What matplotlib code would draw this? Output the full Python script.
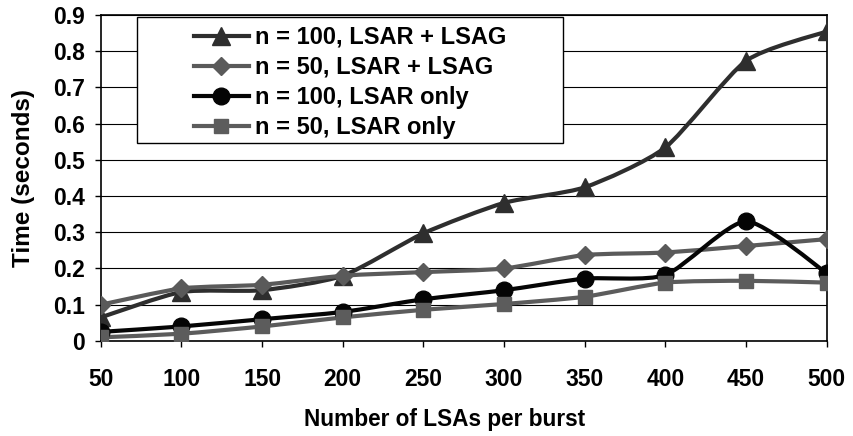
import matplotlib
matplotlib.use('Agg')
import matplotlib.pyplot as plt
from matplotlib.path import Path
from matplotlib.patches import PathPatch, Rectangle
from matplotlib.lines import Line2D

plt.rcParams['font.family'] = ['Liberation Sans', 'DejaVu Sans']
plt.rcParams['font.weight'] = 'bold'

# data
lsas = [50, 100, 150, 200, 250, 300, 350, 400, 450, 500]
n100_both = [0.065, 0.135, 0.14, 0.18, 0.297, 0.381, 0.424, 0.534, 0.773, 0.854]
n50_both = [0.10, 0.145, 0.155, 0.18, 0.19, 0.20, 0.237, 0.244, 0.262, 0.281]
n100_lsar = [0.025, 0.04, 0.06, 0.08, 0.115, 0.14, 0.172, 0.182, 0.33, 0.187]
n50_lsar = [0.01, 0.02, 0.04, 0.065, 0.086, 0.102, 0.122, 0.161, 0.166, 0.161]

labels = ['n = 100, LSAR + LSAG', 'n = 50, LSAR + LSAG',
          'n = 100, LSAR only', 'n = 50, LSAR only']
series = [n100_both, n50_both, n100_lsar, n50_lsar]
colors = ['#2e2e2e', '#5a5a5a', '#050505', '#5c5c5c']
markers = ['^', 'D', 'o', 's']
msizes = [12.5, 8.7, 12, 9.5]


def smooth_path(xs, ys, k=9.0):
    # smoothed line drawn as cubic bezier segments (like Excel smoothed lines)
    pts = list(zip(xs, ys))
    ext = [pts[0]] + pts + [pts[-1]]
    verts = [pts[0]]
    codes = [Path.MOVETO]
    for i in range(1, len(ext) - 2):
        p0, p1, p2, p3 = ext[i - 1], ext[i], ext[i + 1], ext[i + 2]
        c1 = (p1[0] + (p2[0] - p0[0]) / k, p1[1] + (p2[1] - p0[1]) / k)
        c2 = (p2[0] - (p3[0] - p1[0]) / k, p2[1] - (p3[1] - p1[1]) / k)
        verts += [c1, c2, p2]
        codes += [Path.CURVE4] * 3
    return Path(verts, codes)


fig = plt.figure(figsize=(8.54, 4.36), dpi=100)
ax = fig.add_axes([0.118, 0.218, 0.850, 0.748])

for ys, c, m, ms in zip(series, colors, markers, msizes):
    ax.add_patch(PathPatch(smooth_path(lsas, ys), facecolor='none',
                           edgecolor=c, lw=3, zorder=3, capstyle='round'))
    ax.plot(lsas, ys, linestyle='none', marker=m, markersize=ms,
            color=c, zorder=4)

ax.set_xlim(50, 500)
ax.set_ylim(0, 0.9)
ax.set_xticks(lsas)
ax.set_yticks([i / 10 for i in range(10)])
ax.set_yticklabels(['0'] + ['%.1f' % (i / 10) for i in range(1, 10)])
ax.yaxis.grid(True, color='black', lw=0.8)
ax.set_axisbelow(True)
ax.tick_params(axis='x', length=4.5, width=1, labelsize=16.5, pad=15)
ax.tick_params(axis='y', length=4.5, width=1, labelsize=16.5, pad=7)
for s in ax.spines.values():
    s.set_linewidth(1.2)
fig.text(0.521, 0.037, 'Number of LSAs per burst', fontsize=16.3,
         fontweight='bold', ha='center', va='center')
fig.text(0.027, 0.592, 'Time (seconds)', fontsize=17.5, fontweight='bold',
         ha='center', va='center', rotation=90)

# legend box drawn separately to get Excel-like padding
ax.add_patch(Rectangle((0.0496, 0.607), 0.587, 0.387, transform=ax.transAxes,
                       facecolor='white', edgecolor='black', lw=1, zorder=5))
handles = [Line2D([], [], color=c, lw=3, marker=m, markersize=ms)
           for c, m, ms in zip(colors, markers, msizes)]
leg = ax.legend(handles, labels, loc='upper left', bbox_to_anchor=(0.128, 0.966),
                frameon=False, fontsize=17, handlelength=2.33, handletextpad=0.25,
                labelspacing=0.3, borderpad=0, borderaxespad=0)
leg.set_zorder(6)
for t in leg.get_texts():
    t.set_fontweight('bold')

fig.savefig('out.png', dpi=100)
